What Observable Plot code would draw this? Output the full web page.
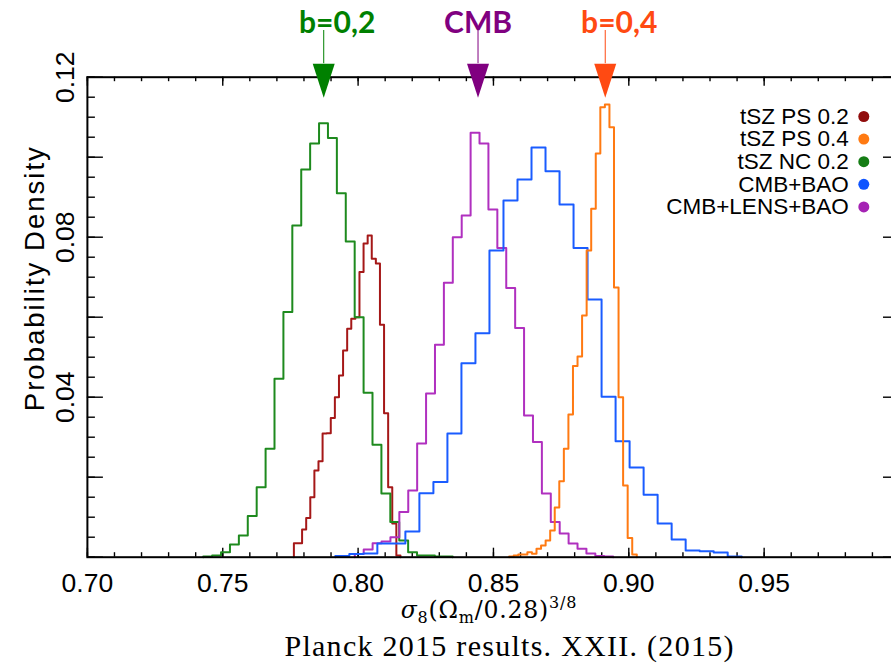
<!DOCTYPE html>
<html><head><meta charset="utf-8">
<script src="https://cdn.jsdelivr.net/npm/d3@7"></script>
<script src="https://cdn.jsdelivr.net/npm/@observablehq/plot@0.6"></script>
<style>
html,body{margin:0;padding:0;background:#fff;overflow:hidden;}
#chart{width:891px;height:664px;overflow:hidden;}
</style></head><body><div id="chart"></div>
<script>
// ---- series ----
const seriesNames  = ["tSZ PS 0.2", "tSZ PS 0.4", "tSZ NC 0.2", "CMB+BAO", "CMB+LENS+BAO"];
const seriesColors = ["#a51818", "#ff7a12", "#1e8a1e", "#1a5cff", "#b030bf"];
const dotColors    = ["#900c0c", "#ff7a12", "#157d15", "#0f55ff", "#a523b4"];

// histogram binning (first bin edge, bin width) per series
const binStart = [0.77628, 0.85580, 0.74279, 0.79158, 0.79878];
const binWidth = [0.001514, 0.001684, 0.003291, 0.005177, 0.003291];

// bin heights (probability density)
const psLow   = [0.0035, 0.0035, 0.0069, 0.0098, 0.0150, 0.0217, 0.0240, 0.0309, 0.0310, 0.0348, 0.0400, 0.0454, 0.0517, 0.0571, 0.0596, 0.0600, 0.0713, 0.0784, 0.0804, 0.0746, 0.0734, 0.0581, 0.0360, 0.0175, 0.0084, 0.0004];
const psHigh  = [0.0002, 0.0004, 0.0007, 0.0007, 0.00125, 0.00085, 0.0021, 0.0029, 0.0042, 0.0067, 0.0124, 0.0190, 0.0271, 0.0357, 0.0478, 0.0502, 0.0604, 0.0767, 0.0871, 0.1009, 0.1125, 0.1132, 0.1075, 0.0674, 0.0400, 0.0179, 0.0048, 0.0007];
const ncLow   = [0.0002, 0.0004, 0.00125, 0.0032, 0.0054, 0.0103, 0.0175, 0.0271, 0.0446, 0.0613, 0.0829, 0.0969, 0.1034, 0.1085, 0.1048, 0.0910, 0.0789, 0.0600, 0.0411, 0.0281, 0.0159, 0.0088, 0.0042, 0.00125, 0.0004, 0.0004, 0.0002, 0.0002];
const cmbBao  = [0.0003, 0.0008, 0.0009, 0.0034, 0.0034, 0.0064, 0.0160, 0.0188, 0.0309, 0.0485, 0.0560, 0.0767, 0.0892, 0.0944, 0.1024, 0.0965, 0.0882, 0.0773, 0.0644, 0.0401, 0.0290, 0.0224, 0.0156, 0.0084, 0.0044, 0.0017, 0.0015, 0.0012, 0.0002];
const cmbLens = [0.0008, 0.0019, 0.0035, 0.0039, 0.0050, 0.0113, 0.0167, 0.0284, 0.0409, 0.0531, 0.0686, 0.0800, 0.0854, 0.1061, 0.1034, 0.0869, 0.0773, 0.0673, 0.0573, 0.0354, 0.0288, 0.0159, 0.0088, 0.0059, 0.0034, 0.0021, 0.0009, 0.0003, 0.0002];
const seriesHeights = [psLow, psHigh, ncLow, cmbBao, cmbLens];
const drawOrder = [0, 2, 4, 3, 1];

// top annotations
const arrowLabels = ["b=0,2", "CMB", "b=0,4"];
const arrowX      = [0.7873, 0.8443, 0.8913];
const arrowColors = ["#008000", "#800080", "#ff4a12"];
const arrowLabelDx = [13.5, 0, 14];

// axes
const xDomain = [0.70, 1.00];
const yDomain = [0, 0.12];
const xTickLabels = [0.70, 0.75, 0.80, 0.85, 0.90, 0.95];
const xMajor = [0.70, 0.75, 0.80, 0.85, 0.90, 0.95, 1.00];
const xMinor = d3.range(70, 101).map(d => d / 100);
const yTickLabels = [0.04, 0.08, 0.12];
const yMajor = [0, 0.02, 0.04, 0.06, 0.08, 0.10, 0.12];
const yMinor = d3.range(0, 25).map(d => d * 0.005);
const yLabel = "Probability Density";
const caption = "Planck 2015 results. XXII. (2015)";

// build step-line table
const hist = [];
drawOrder.forEach(s => {
  const h = seriesHeights[s], x0 = binStart[s], w = binWidth[s];
  hist.push({series: seriesNames[s], color: seriesColors[s], x: x0, y: 0});
  h.forEach((v, i) => hist.push({series: seriesNames[s], color: seriesColors[s], x: x0 + i * w, y: v}));
  hist.push({series: seriesNames[s], color: seriesColors[s], x: x0 + h.length * w, y: 0});
});

const downTriangle = {draw(ctx) { ctx.moveTo(-11, -13.5); ctx.lineTo(11, -13.5); ctx.lineTo(0, 20.5); ctx.closePath(); }};
const sans = "Liberation Sans, Arial, Helvetica, sans-serif";
const yTop = yDomain[1], yBot = yDomain[0], xL = xDomain[0], xR = xDomain[1];

const marks = [
  // ticks: bottom & top (x), left & right (y)
  Plot.ruleX(xMinor, {x: d => d, y1: yBot, y2: yBot, insetBottom: 4.5, stroke: "black", strokeWidth: 1.4}),
  Plot.ruleX(xMajor, {x: d => d, y1: yBot, y2: yBot, insetBottom: 9, stroke: "black", strokeWidth: 1.4}),
  Plot.ruleX(xMinor, {x: d => d, y1: yTop, y2: yTop, insetBottom: -4.5, stroke: "black", strokeWidth: 1.4}),
  Plot.ruleX(xMajor, {x: d => d, y1: yTop, y2: yTop, insetBottom: -9, stroke: "black", strokeWidth: 1.4}),
  Plot.ruleY(yMinor, {y: d => d, x1: xL, x2: xL, insetRight: -8, stroke: "black", strokeWidth: 1.4}),
  Plot.ruleY(yMajor, {y: d => d, x1: xL, x2: xL, insetRight: -16, stroke: "black", strokeWidth: 1.4}),
  Plot.ruleY(yMinor, {y: d => d, x1: xR, x2: xR, insetLeft: -8, stroke: "black", strokeWidth: 1.4}),
  Plot.ruleY(yMajor, {y: d => d, x1: xR, x2: xR, insetLeft: -16, stroke: "black", strokeWidth: 1.4}),
  // histograms
  Plot.line(hist, {x: "x", y: "y", z: "series", stroke: "color", curve: "step-after", strokeWidth: 2}),
  Plot.frame({stroke: "black", strokeWidth: 2}),
  // tick labels
  Plot.text(xTickLabels, {x: d => d, frameAnchor: "bottom", dy: 26.6, text: d => d.toFixed(2), fontSize: 26.5, fontFamily: sans, lineAnchor: "middle", fill: "black"}),
  Plot.text(yTickLabels, {y: d => d, frameAnchor: "left", dx: -21.4, rotate: -90, text: d => d.toFixed(2), fontSize: 26.5, fontFamily: sans, lineAnchor: "middle", textAnchor: "middle", fill: "black"}),
  Plot.text([yLabel], {frameAnchor: "left", dx: -52, dy: -38, rotate: -90, fontSize: 27.5, fontFamily: sans, lineAnchor: "middle", textAnchor: "middle", fill: "black"}),
  Plot.text([caption], {frameAnchor: "bottom", dx: 15.5, dy: 89.5, fontSize: 30, fontFamily: "Liberation Serif, Times New Roman, serif", lineAnchor: "middle", textAnchor: "middle", fill: "black"}),
  // arrows
  Plot.ruleX(arrowX, {x: d => d, y1: yTop, y2: yTop, insetTop: -46.7, insetBottom: 13.5, stroke: (d, i) => arrowColors[i], strokeWidth: 1}),
  Plot.dot(arrowX, {x: d => d, y: yTop, symbol: downTriangle, fill: (d, i) => arrowColors[i], stroke: "none"}),
  ...arrowLabels.map((lab, i) => Plot.text([lab], {x: arrowX[i], y: yTop, dx: arrowLabelDx[i], dy: -54.2, fontSize: 30, fontWeight: "bold", fontFamily: "Lato, DejaVu Sans, sans-serif", fill: arrowColors[i], lineAnchor: "middle", textAnchor: "middle"})),
  // legend
  ...seriesNames.map((name, i) => Plot.text([name], {frameAnchor: "top-right", dx: -50.7, dy: 39.3 + 22.6 * i, fontSize: 22.5, fontFamily: sans, textAnchor: "end", lineAnchor: "middle", fill: "black"})),
  ...seriesNames.map((name, i) => Plot.dot([name], {frameAnchor: "top-right", dx: -35.7, dy: 39.3 + 22.6 * i, r: 5.5, fill: dotColors[i], stroke: "none"}))
];

const chart = Plot.plot({
  width: 891, height: 664,
  marginLeft: 86.9, marginRight: -8, marginTop: 76.7, marginBottom: 107.3,
  x: {domain: xDomain, axis: null},
  y: {domain: yDomain, axis: null},
  color: {type: "identity"},
  style: {background: "white", overflow: "visible"},
  marks
});
document.getElementById("chart").appendChild(chart);

const svg = d3.select(chart);
svg.selectAll("text").filter(function() { return this.textContent === yLabel; })
  .attr("textLength", 264).attr("lengthAdjust", "spacing");
svg.selectAll("text").filter(function() { return this.textContent === caption; })
  .attr("textLength", 449).attr("lengthAdjust", "spacing");

// x-axis math label
const lab = svg.append("text").attr("x", 489).attr("y", 618).attr("text-anchor", "middle")
  .attr("font-family", "DejaVu Serif, Liberation Serif, serif").attr("font-size", 23.5).attr("fill", "black")
  .attr("letter-spacing", 0.8);
lab.append("tspan").attr("font-style", "italic").text("σ");
lab.append("tspan").attr("font-size", 16).attr("dy", 5).text("8");
lab.append("tspan").attr("dy", -5).text("(Ω");
lab.append("tspan").attr("font-size", 16).attr("dy", 5).text("m");
lab.append("tspan").attr("dy", -5).text("/0.28)");
lab.append("tspan").attr("font-size", 16).attr("dy", -10).text("3/8");
</script>
</body></html>
